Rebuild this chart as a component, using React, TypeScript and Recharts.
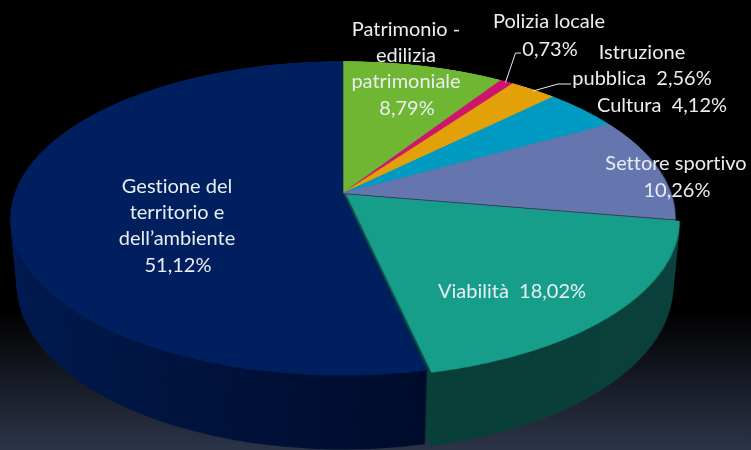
import { Cell, Pie, PieChart } from 'recharts'

const categories = [
  'Patrimonio - edilizia patrimoniale',
  'Polizia locale',
  'Istruzione pubblica',
  'Cultura',
  'Settore sportivo',
  'Viabilità',
  'Gestione del territorio e dell’ambiente',
]
const shares = [8.79, 0.73, 2.56, 4.12, 10.26, 18.02, 51.12]
const topColors = ['#6fb732', '#cf146e', '#e2a108', '#009ac2', '#6575ae', '#169e8b', '#001f5f']
const sideColors = ['#3a6118', '#6b0a39', '#755404', '#005066', '#343d5b', 'url(#tealSide)', 'url(#navySide)']
const explodedName = 'Viabilità'

const data = categories.map((name, i) => ({ name, value: shares[i] }))

const fmt = (v: number) => v.toFixed(2).replace('.', ',') + '%'

// text lines: label, centre x, centre y
const labels: Array<[string, number, number]> = [
  ['Patrimonio -', 406, 28],
  ['edilizia', 406, 54],
  ['patrimoniale', 406, 80],
  [fmt(shares[0]), 407, 107],
  ['Polizia locale', 549, 20],
  [fmt(shares[1]), 550, 48],
  ['Istruzione', 642, 51],
  ['pubblica  ' + fmt(shares[2]), 642, 77],
  ['Cultura  ' + fmt(shares[3]), 662, 104],
  ['Settore sportivo', 676, 162],
  [fmt(shares[4]), 677, 189],
  ['Viabilità  ' + fmt(shares[5]), 512, 290],
  ['Gestione del', 177, 185],
  ['territorio e', 177, 211],
  ['dell’ambiente', 177, 237],
  [fmt(shares[6]), 178, 264],
]

const SIZE = 700
const RADIUS = 328
const DEPTH = 76
const STEP = 2
const depths: number[] = []
for (let z = DEPTH; z > 0; z -= STEP) depths.push(z)
depths.push(0)

function Layer({ z }: { z: number }) {
  const colors = z === 0 ? topColors : sideColors
  const ring = (exploded: boolean, cx: number, cy: number) => (
    <Pie
      data={data}
      dataKey="value"
      nameKey="name"
      cx={cx}
      cy={cy}
      innerRadius={0}
      outerRadius={RADIUS}
      startAngle={90}
      endAngle={-270}
      stroke="none"
      label={false}
      labelLine={false}
      isAnimationActive={false}
    >
      {data.map((d, i) => {
        const show = (d.name === explodedName) === exploded
        return (
          <Cell
            key={d.name}
            fill={show ? colors[i] : 'none'}
            stroke={show && z === 0 ? colors[i] : 'none'}
            strokeWidth={0.6}
          />
        )
      })}
    </Pie>
  )
  return (
    <div style={{ position: 'absolute', left: 0, top: 0, transform: `translateZ(${-z}px)` }}>
      <PieChart width={SIZE} height={SIZE} margin={{ top: 0, right: 0, bottom: 0, left: 0 }}>
        <defs>
          <linearGradient id="navySide" x1="0" y1="0" x2="1" y2="0">
            <stop offset="0%" stopColor="#001a50" />
            <stop offset="100%" stopColor="#000b2a" />
          </linearGradient>
          <linearGradient id="tealSide" x1="0" y1="0" x2="1" y2="0">
            <stop offset="0%" stopColor="#0c5044" />
            <stop offset="25%" stopColor="#083e38" />
            <stop offset="100%" stopColor="#0a403a" />
          </linearGradient>
        </defs>
        {ring(false, SIZE / 2, SIZE / 2)}
        {ring(true, SIZE / 2 + 3.5, SIZE / 2 + 3.3)}
      </PieChart>
    </div>
  )
}

export default function App() {
  return (
    <div
      style={{
        position: 'absolute',
        left: 0,
        top: 0,
        width: 751,
        height: 450,
        overflow: 'hidden',
        background: 'linear-gradient(180deg, #000 0%, #000 69%, #2c3448 100%)',
        fontFamily: 'Lato, "Open Sans", sans-serif',
      }}
    >
      {/* tilted pie, one flat chart per slab of the thickness */}
      <div
        style={{
          position: 'absolute',
          left: 343 - SIZE / 2,
          top: 193 - SIZE / 2,
          width: SIZE,
          height: SIZE,
          transform: 'perspective(1800px) rotateX(62.2deg)',
          transformOrigin: '50% 50%',
          transformStyle: 'preserve-3d',
        }}
      >
        {depths.map((z) => (
          <Layer key={z} z={z} />
        ))}
      </div>

      {/* leader lines */}
      <svg width={751} height={450} style={{ position: 'absolute', left: 0, top: 0 }}>
        <polyline points="521,53 515.5,53 505.5,82.5" fill="none" stroke="#e8edf2" strokeWidth={1} />
        <polyline points="571,84 558,84 533,91" fill="none" stroke="#e8edf2" strokeWidth={1} />
      </svg>

      {labels.map(([text, x, y]) => (
        <div
          key={text}
          style={{
            position: 'absolute',
            left: x - 120,
            top: y - 15,
            width: 240,
            height: 30,
            lineHeight: '30px',
            textAlign: 'center',
            whiteSpace: 'pre',
            fontSize: 20,
            color: '#e9eef3',
            fontVariantLigatures: 'none',
          }}
        >
          {text}
        </div>
      ))}
    </div>
  )
}
